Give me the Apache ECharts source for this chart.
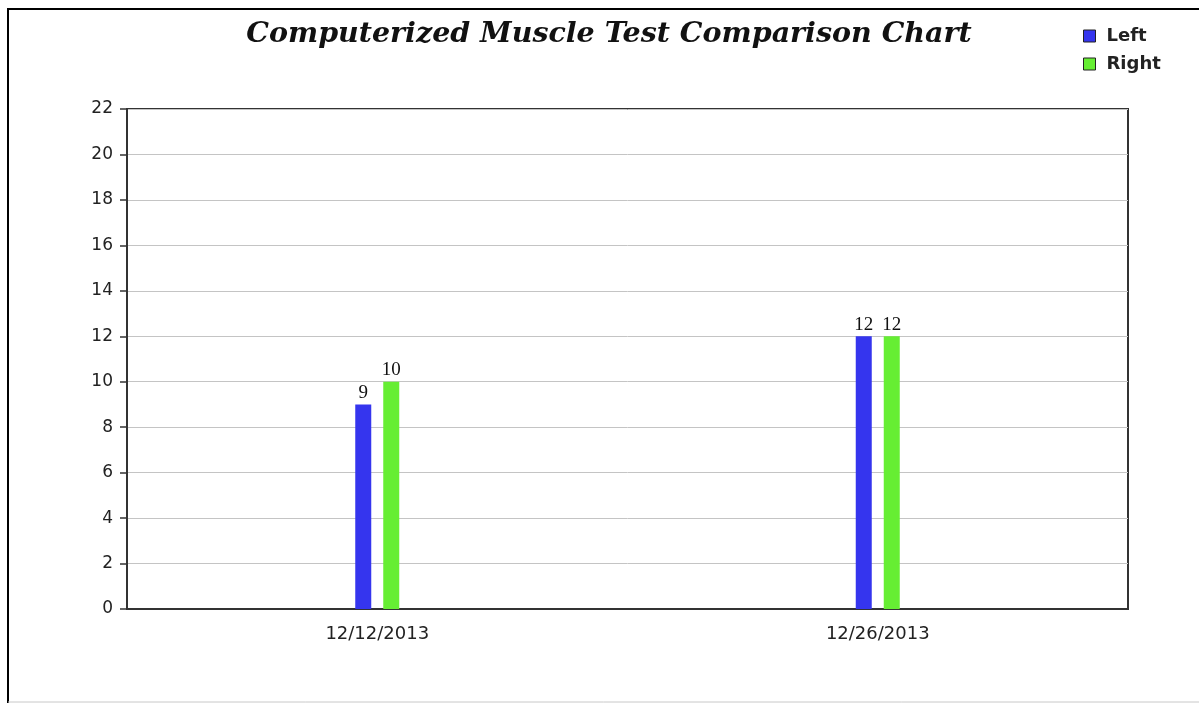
<!DOCTYPE html>
<html>
<head>
<meta charset="utf-8">
<script src="https://cdn.jsdelivr.net/npm/echarts@6/dist/echarts.min.js"></script>
<style>
html,body{margin:0;padding:0;background:#fff;}
#chart{width:1199px;height:703px;}
</style>
</head>
<body>
<div id="chart"></div>
<script>
const categories = ['12/12/2013', '12/26/2013'];
const leftValues = [9, 12];
const rightValues = [10, 12];
const seriesNames = ['Left', 'Right'];
const titleText = 'Computerized Muscle Test Comparison Chart';

const chart = echarts.init(document.getElementById('chart'));
const labelStyle = {
  show: true, position: 'top', distance: 2,
  fontFamily: 'Liberation Serif', fontSize: 19, color: '#111'
};
chart.setOption({
  animation: false,
  backgroundColor: '#fff',
  title: {
    text: titleText,
    left: 609, top: 20, textAlign: 'center', padding: 0,
    textStyle: {fontFamily: 'DejaVu Serif', fontStyle: 'italic', fontWeight: 'bold', fontSize: 28.5, color: '#111'}
  },
  legend: {
    data: seriesNames,
    orient: 'vertical', left: 1083, top: 27, padding: 0,
    itemWidth: 12, itemHeight: 12, itemGap: 10,
    icon: 'rect',
    itemStyle: {borderColor: '#222', borderWidth: 1},
    textStyle: {fontFamily: 'DejaVu Sans', fontWeight: 'bold', fontSize: 18, color: '#222', padding: [0,0,0,6]}
  },
  graphic: [
    {type: 'line', shape: {x1: 7, y1: 9, x2: 1199, y2: 9}, style: {stroke: '#000', lineWidth: 2}},
    {type: 'line', shape: {x1: 8, y1: 8, x2: 8, y2: 703}, style: {stroke: '#000', lineWidth: 2}},
    {type: 'line', shape: {x1: 8, y1: 702, x2: 1199, y2: 702}, style: {stroke: '#c8c8c8', lineWidth: 1}}
  ],
  grid: {left: 127, top: 109, right: 71, bottom: 94, show: true, borderColor: '#333', borderWidth: 2, backgroundColor: 'transparent'},
  xAxis: {
    type: 'category', data: categories,
    axisLine: {lineStyle: {color: '#333', width: 2}},
    axisTick: {alignWithLabel: true, length: 6, lineStyle: {color: '#333', width: 2}},
    axisLabel: {fontFamily: 'DejaVu Sans', fontSize: 18, color: '#222', margin: 16}
  },
  yAxis: {
    type: 'value', min: 0, max: 22, interval: 2,
    axisLine: {show: true, lineStyle: {color: '#333', width: 2}},
    axisTick: {show: true, length: 7, lineStyle: {color: '#333', width: 1.5}},
    axisLabel: {fontFamily: 'DejaVu Sans', fontSize: 17, color: '#222', margin: 14},
    splitLine: {lineStyle: {color: '#c4c4c4', width: 1}}
  },
  series: [
    {name: seriesNames[0], type: 'bar', data: leftValues, barWidth: 16, barGap: '75%',
     itemStyle: {color: '#3535ee'}, label: labelStyle},
    {name: seriesNames[1], type: 'bar', data: rightValues, barWidth: 16, barGap: '75%',
     itemStyle: {color: '#66ee33'}, label: labelStyle}
  ]
});
</script>
</body>
</html>
